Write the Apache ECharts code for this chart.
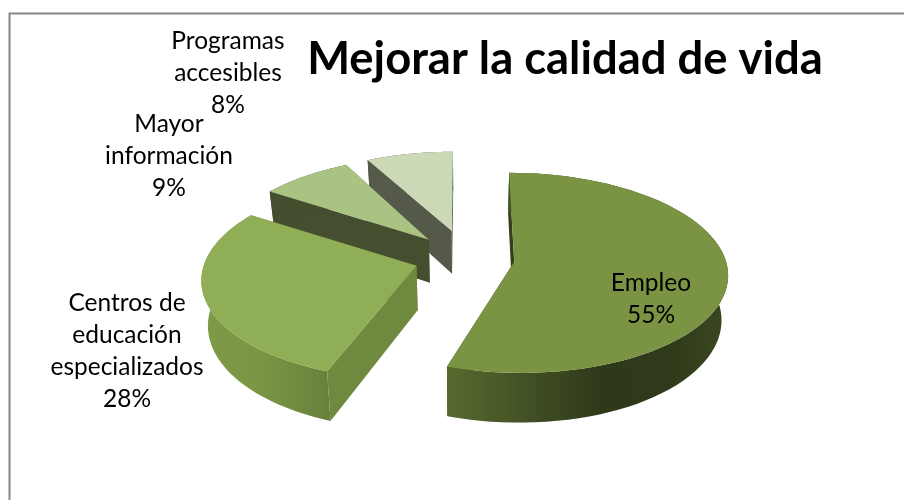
<!DOCTYPE html>
<html>
<head>
<meta charset="utf-8">
<style>html,body{margin:0;padding:0;background:#fff}#c{width:904px;height:500px}</style>
<script src="https://cdn.jsdelivr.net/npm/echarts@6/dist/echarts.min.js"></script>
</head>
<body>
<div id="c"></div>
<script>
const categories = ['Empleo', 'Centros de\neducación\nespecializados', 'Mayor\ninformación', 'Programas\naccesibles'];
const percentValues = [55, 28, 9, 8];
const titleText = 'Mejorar la calidad de vida';

const topColors = ['#7a9444', '#90ae55', '#abc382', '#cbd9b6'];
const wallStops = [
  [[0, '#566a2e'], [0.3, '#414f24'], [0.55, '#2e3919'], [0.8, '#2f3a1a'], [1, '#3a4820']],
  [[0, '#7f9c49'], [0.1, '#7d9a47'], [0.45, '#7b9545'], [1, '#69803a']],
  [[0, '#454f30'], [1, '#434d2e']],
  [[0, '#55594a'], [1, '#5a5e4e']]
];
const cutColors = ['#33401c', '#6f893f', '#454f30', '#55594a'];
const labelLayout = [[651, 299], [127, 351], [169, 156], [228, 73]];
// small per-slice corrections for the reference's 3D perspective
const perspectiveTurn = [[0, 0], [2.6, 4.4], [5.5, 1.8], [1.8, 0]];
const apexLift = [0, -1, -2, -5];

const geometry = { cx: 464, cy: 258, rx: 211, ry: 98, persp: 0.111, explode: 0.24, depth: 44, dropShrink: 0.975 };

function project(u, v, drop) {
  const w = 1 - geometry.persp * v;
  const x = geometry.rx * u / w;
  return [
    geometry.cx + (drop ? x * geometry.dropShrink : x),
    geometry.cy + geometry.ry * v / w + (drop ? geometry.depth / w : 0)
  ];
}

const total = percentValues.reduce((a, b) => a + b, 0);
const angles = [];
percentValues.reduce((start, val) => {
  const end = start + val / total * Math.PI * 2;
  angles.push([start, end]);
  return end;
}, 0);

function renderSlice(params, api) {
  const i = api.value(0);
  const [a0, a1] = angles[i];
  const mid = (a0 + a1) / 2;
  const ox = geometry.explode * Math.sin(mid);
  const oy = -geometry.explode * Math.cos(mid);
  const t0 = a0 + perspectiveTurn[i][0] * Math.PI / 180;
  const t1 = a1 + perspectiveTurn[i][1] * Math.PI / 180;
  const rimAt = (t, drop) => project(ox + Math.sin(t), oy - Math.cos(t), drop);
  const steps = 72;
  const rimTop = [], rimBottom = [];
  for (let s = 0; s <= steps; s++) {
    const t = t0 + (t1 - t0) * s / steps;
    rimTop.push(rimAt(t, false));
    rimBottom.push(rimAt(t, true));
  }
  const apexTop = project(ox, oy, false);
  const apexBottom = project(ox, oy, true);
  apexTop[1] += apexLift[i];
  apexBottom[1] += apexLift[i];
  const grad = new echarts.graphic.LinearGradient(0, 0, 1, 0,
    wallStops[i].map(s => ({ offset: s[0], color: s[1] })));
  const poly = (points, fill, z2) => ({
    type: 'polygon', z2: z2 + (4 - i) * 10,
    shape: { points }, style: { fill, stroke: null }, silent: true
  });
  const cutA = [apexTop, rimTop[0], rimBottom[0], apexBottom];
  const cutB = [apexTop, rimTop[steps], rimBottom[steps], apexBottom];
  return {
    type: 'group',
    children: [
      poly(cutA, cutColors[i], 1),
      poly(cutB, cutColors[i], 1),
      poly(rimTop.concat(rimBottom.slice().reverse()), grad, 2),
      poly([apexTop].concat(rimTop), topColors[i], 3)
    ]
  };
}

const chart = echarts.init(document.getElementById('c'), null, { renderer: 'canvas' });
chart.setOption({
  animation: false,
  backgroundColor: '#ffffff',
  title: {
    text: titleText, left: 560, top: 32, textAlign: 'center',
    textStyle: { fontFamily: 'Lato', fontWeight: 'bold', fontSize: 45.4, color: '#000' }
  },
  graphic: [
    { type: 'rect', shape: { x: 9.5, y: 13.5, width: 1000, height: 600 }, style: { fill: 'none', stroke: '#868686', lineWidth: 2 }, silent: true }
  ].concat(categories.map((name, i) => ({
    type: 'text', x: labelLayout[i][0], y: labelLayout[i][1], z: 10, silent: true,
    style: {
      text: name + '\n' + percentValues[i] + '%',
      fontFamily: 'Lato', fontSize: 24.5, lineHeight: 32,
      fill: '#000', align: 'center', verticalAlign: 'middle'
    }
  }))),
  series: [{
    type: 'custom',
    coordinateSystem: 'none',
    renderItem: renderSlice,
    data: percentValues.map((v, i) => [i, v])
  }]
});
</script>
</body>
</html>
